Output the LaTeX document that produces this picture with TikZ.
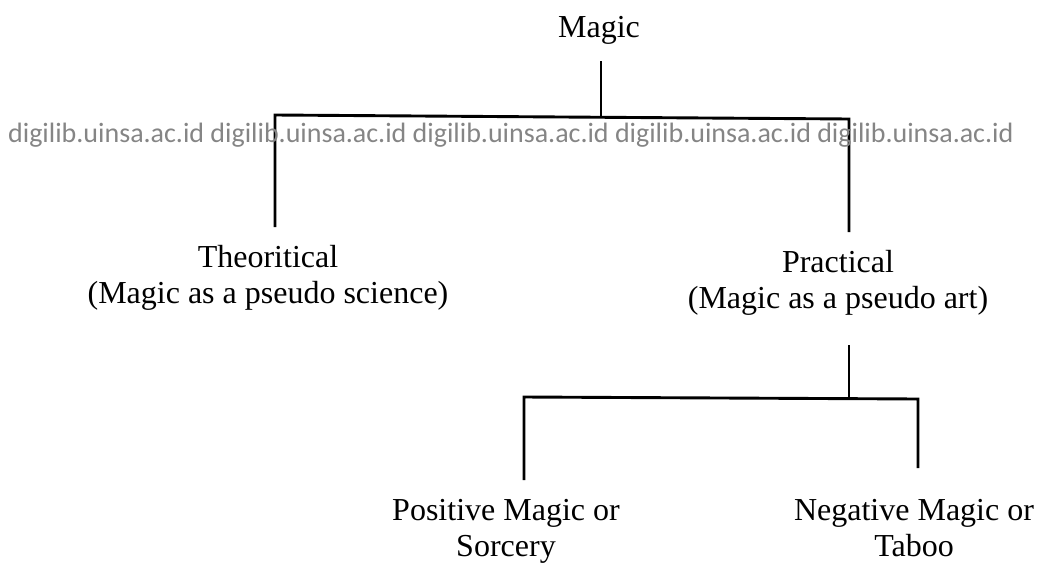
\documentclass[tikz,border=0pt]{standalone}
\usepackage{fontspec}
\setmainfont{Liberation Serif}
\newfontfamily\wmfont{Carlito}
\begin{document}
\begin{tikzpicture}[x=1pt,y=-1pt,
    lbl/.style={inner sep=0pt,align=center,font=\fontsize{32}{36}\selectfont},
    branch/.style={line width=2.9pt},
    wmark/.style={inner sep=0pt,text=black!48,font=\wmfont\fontsize{28}{30}\selectfont}]
  \useasboundingbox (0,0) rectangle (1040,562);

  % labels
  \node[lbl,anchor=base] (magic) at (599,37) {Magic};
  \node[lbl,anchor=north] (theo) at (268,245)
      {Theoritical\\(Magic as a pseudo science)};
  \node[lbl,anchor=north] (prac) at (838,250)
      {Practical\\(Magic as a pseudo art)};
  \node[lbl,anchor=north] (pos) at (506,499)
      {Positive Magic or\\Sorcery};
  \node[lbl,anchor=north] (neg) at (914,499)
      {Negative Magic or\\Taboo};

  % line ends
  \coordinate (m-stem) at (601,61);
  \coordinate (m-join) at (601,117);
  \coordinate (t-top) at (275,115);
  \coordinate (t-end) at (275,227);
  \coordinate (p-top) at (849,119);
  \coordinate (p-end) at (849,232);
  \coordinate (p-stem) at (849,345);
  \coordinate (p-join) at (849,398);
  \coordinate (pos-top) at (524,397);
  \coordinate (pos-end) at (524,480);
  \coordinate (neg-top) at (918,399);
  \coordinate (neg-end) at (918,468);

  \draw[branch] (m-stem) -- (m-join);
  \draw[branch] (t-end) -- (t-top) -- (p-top) -- (p-end);
  \draw[branch] (p-stem) -- (p-join);
  \draw[branch] (pos-end) -- (pos-top) -- (neg-top) -- (neg-end);

  % watermark
  \node[wmark,anchor=base west] (wm) at (8,142)
      {digilib.uinsa.ac.id digilib.uinsa.ac.id digilib.uinsa.ac.id digilib.uinsa.ac.id digilib.uinsa.ac.id};
\end{tikzpicture}
\end{document}
